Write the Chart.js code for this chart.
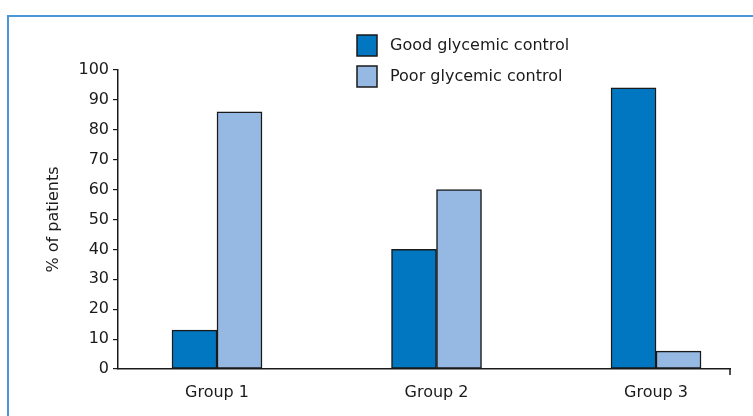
<!DOCTYPE html>
<html>
<head>
<meta charset="utf-8">
<script src="https://cdn.jsdelivr.net/npm/chart.js@4/dist/chart.umd.min.js"></script>
<style>
  html, body { margin: 0; padding: 0; background: #fff; }
  #wrap { position: relative; width: 753px; height: 416px; overflow: hidden; }
  #frame { position: absolute; left: 7px; top: 15px; width: 800px; height: 500px;
           border-left: 2px solid #4b96d8; border-top: 2px solid #4b96d8; }
  canvas { position: absolute; left: 0; top: 0; }
</style>
</head>
<body>
<div id="wrap">
  <div id="frame"></div>
  <canvas id="chart" width="753" height="416"></canvas>
</div>
<script>
const groups = ['Group 1', 'Group 2', 'Group 3']
const goodControl = [13, 40, 94]
const poorControl = [86, 60, 6]
const seriesNames = ['Good glycemic control', 'Poor glycemic control']
const yTicks = [0, 10, 20, 30, 40, 50, 60, 70, 80, 90, 100]

const DARK = '#0077c0'
const LIGHT = '#96b9e3'
const INK = '#1a1a1a'
const FONT = { family: 'DejaVu Sans', size: 16 }

const toPoints = (vals) => vals.map((v, i) => ({ x: i + 1, y: v }))

// legend drawn as a stacked list inside the plot, like the original
const boxLegend = {
  id: 'boxLegend',
  afterDraw(chart) {
    const { ctx } = chart
    ctx.save()
    chart.data.datasets.forEach((ds, i) => {
      const y = 35 + i * 31
      ctx.fillStyle = ds.backgroundColor
      ctx.fillRect(357, y, 20, 21)
      ctx.lineWidth = 1.5
      ctx.strokeStyle = INK
      ctx.strokeRect(357, y, 20, 21)
      ctx.fillStyle = INK
      ctx.font = `${FONT.size}px ${FONT.family}`
      ctx.textBaseline = 'middle'
      ctx.fillText(ds.label, 390, y + 11)
    })
    // small closing tick at the right end of the x axis
    const { right, bottom } = chart.chartArea
    ctx.beginPath()
    ctx.moveTo(right, bottom)
    ctx.lineTo(right, bottom + 6)
    ctx.stroke()
    ctx.restore()
  },
}

new Chart(document.getElementById('chart'), {
  type: 'bar',
  data: {
    datasets: [
      { label: seriesNames[0], data: toPoints(goodControl), backgroundColor: DARK },
      { label: seriesNames[1], data: toPoints(poorControl), backgroundColor: LIGHT },
    ],
  },
  options: {
    responsive: false,
    animation: false,
    layout: { padding: { left: 44, right: 23, top: 70, bottom: 0 } },
    datasets: {
      bar: {
        barThickness: 45,
        borderWidth: 1.5,
        borderColor: INK,
        borderSkipped: false,
      },
    },
    plugins: {
      legend: { display: false },
      tooltip: { enabled: false },
    },
    scales: {
      x: {
        type: 'linear',
        min: 0.549,
        max: 3.337,
        offset: false,
        grid: { display: false },
        border: { display: true, color: INK, width: 1.5 },
        afterBuildTicks: (scale) => {
          scale.ticks = groups.map((g, i) => ({ value: i + 1 }))
        },
        ticks: {
          autoSkip: false,
          maxRotation: 0,
          padding: 6,
          color: INK,
          font: FONT,
          callback: (v) => groups[v - 1],
        },
        afterFit: (scale) => { scale.height = 47 },
      },
      y: {
        min: 0,
        max: 100,
        afterBuildTicks: (scale) => {
          scale.ticks = yTicks.map((v) => ({ value: v }))
        },
        grid: { drawOnChartArea: false, tickLength: 5, color: INK, lineWidth: 1.2 },
        border: { display: true, color: INK, width: 1.5 },
        ticks: { padding: 4, color: INK, font: FONT },
        title: {
          display: true,
          text: '% of patients',
          color: INK,
          font: FONT,
          padding: { top: 0, bottom: 4 },
        },
        afterFit: (scale) => { scale.width = 74 },
      },
    },
  },
  plugins: [boxLegend],
})
</script>
</body>
</html>
